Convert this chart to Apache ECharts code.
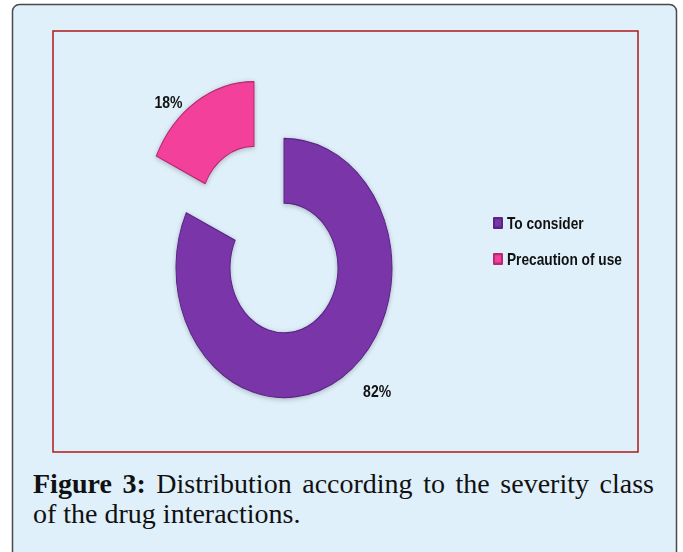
<!DOCTYPE html>
<html><head><meta charset="utf-8">
<script src="https://cdn.jsdelivr.net/npm/echarts@6/dist/echarts.min.js"></script>
<style>
html,body{margin:0;padding:0;background:#ffffff;}
#wrap{position:relative;width:683px;height:552px;overflow:hidden;}
#base{position:absolute;left:0;top:0;width:683px;height:552px;}
#plot{position:absolute;left:0;top:0;width:683px;height:460px;transform:scaleY(1.2);transform-origin:0 0;}
</style></head><body>
<div id="wrap"><div id="base"></div><div id="plot"></div></div>
<script>
// ---- data ----
const categories = ['To consider', 'Precaution of use'];
const values = [82, 18];
const captionLabel = 'Figure 3:';
const captionLine1 = 'Distribution according to the severity class';
const captionLine2 = 'of the drug interactions.';

// ---- styles ----
const sliceColors = ['#7a36a9', '#f2409b'];
const sliceBorders = ['#5a2584', '#b52a72'];
const serif = '"Liberation Serif", "DejaVu Serif", serif';
const capSize = 28;

// ---- caption layout (justified first line) ----
const ctx = document.createElement('canvas').getContext('2d');
function measure(t, bold) {
  ctx.font = (bold ? 'bold ' : '') + capSize + 'px ' + serif;
  return ctx.measureText(t).width;
}
const words = captionLabel.split(' ').map(t => ({ t, b: true }))
  .concat(captionLine1.split(' ').map(t => ({ t, b: false })));
const lineLeft = 33, lineRight = 654;
const totalW = words.reduce((s, w) => s + measure(w.t, w.b), 0);
const gap = (lineRight - lineLeft - totalW) / (words.length - 1);
const captionEls = [];
let cx = lineLeft;
words.forEach(w => {
  captionEls.push({
    type: 'text', x: cx, y: 483, z: 5,
    style: { text: w.t, fill: '#111111', font: (w.b ? 'bold ' : '') + capSize + 'px ' + serif,
             align: 'left', verticalAlign: 'middle' }
  });
  cx += measure(w.t, w.b) + gap;
});
captionEls.push({
  type: 'text', x: lineLeft, y: 513, z: 5,
  style: { text: captionLine2, fill: '#111111', font: capSize + 'px ' + serif,
           align: 'left', verticalAlign: 'middle' }
});

const base = echarts.init(document.getElementById('base'), null, { renderer: 'svg' });
base.setOption({
  animation: false,
  graphic: [
    { type: 'rect', z: 0, shape: { x: 12.5, y: 4.5, width: 664, height: 620, r: 7 },
      style: { fill: '#dff0fa', stroke: '#4a4a4a', lineWidth: 1.5 } },
    { type: 'rect', z: 1, shape: { x: 53, y: 31, width: 585, height: 421 },
      style: { fill: 'none', stroke: '#ad1a1a', lineWidth: 1.5 } }
  ].concat(captionEls)
});

// ---- chart (drawn with a vertical stretch like the reference) ----
const plot = echarts.init(document.getElementById('plot'), null, { renderer: 'svg' });
const labelLines = [{ length: 13.5, length2: 9 }, { length: 0, length2: 8.7 }];
plot.setOption({
  animation: false,
  backgroundColor: 'transparent',
  legend: {
    orient: 'vertical', left: 488, top: 173.8,
    itemWidth: 8, itemHeight: 8, itemGap: 16, icon: 'rect',
    selectedMode: false,
    textStyle: { fontFamily: '"Liberation Sans", Arial, sans-serif', fontWeight: 'bold',
                 fontSize: 13.7, lineHeight: 14, color: '#111111' },
    data: categories
  },
  series: [{
    type: 'pie',
    center: [284, 223.3],
    radius: [54, 108],
    startAngle: 90,
    clockwise: true,
    avoidLabelOverlap: false,
    selectedMode: 'single',
    selectedOffset: 56,
    emphasis: { disabled: true },
    label: {
      show: true, position: 'outside',
      formatter: p => Math.round(p.percent) + '%',
      fontFamily: '"Liberation Sans", Arial, sans-serif', fontWeight: 'bold',
      fontSize: 14, color: '#111111', distanceToLabelLine: 5
    },
    labelLine: { show: false },
    data: categories.map((name, i) => ({
      name, value: values[i],
      selected: i === 1,
      labelLine: Object.assign({ show: false }, labelLines[i]),
      itemStyle: {
        color: sliceColors[i], borderColor: sliceBorders[i], borderWidth: 1,
        shadowBlur: 4, shadowColor: 'rgba(0,0,0,0.25)', shadowOffsetY: 1
      },
      select: { itemStyle: { color: sliceColors[i], borderColor: sliceBorders[i], borderWidth: 1 } }
    }))
  }]
});
</script>
</body></html>
